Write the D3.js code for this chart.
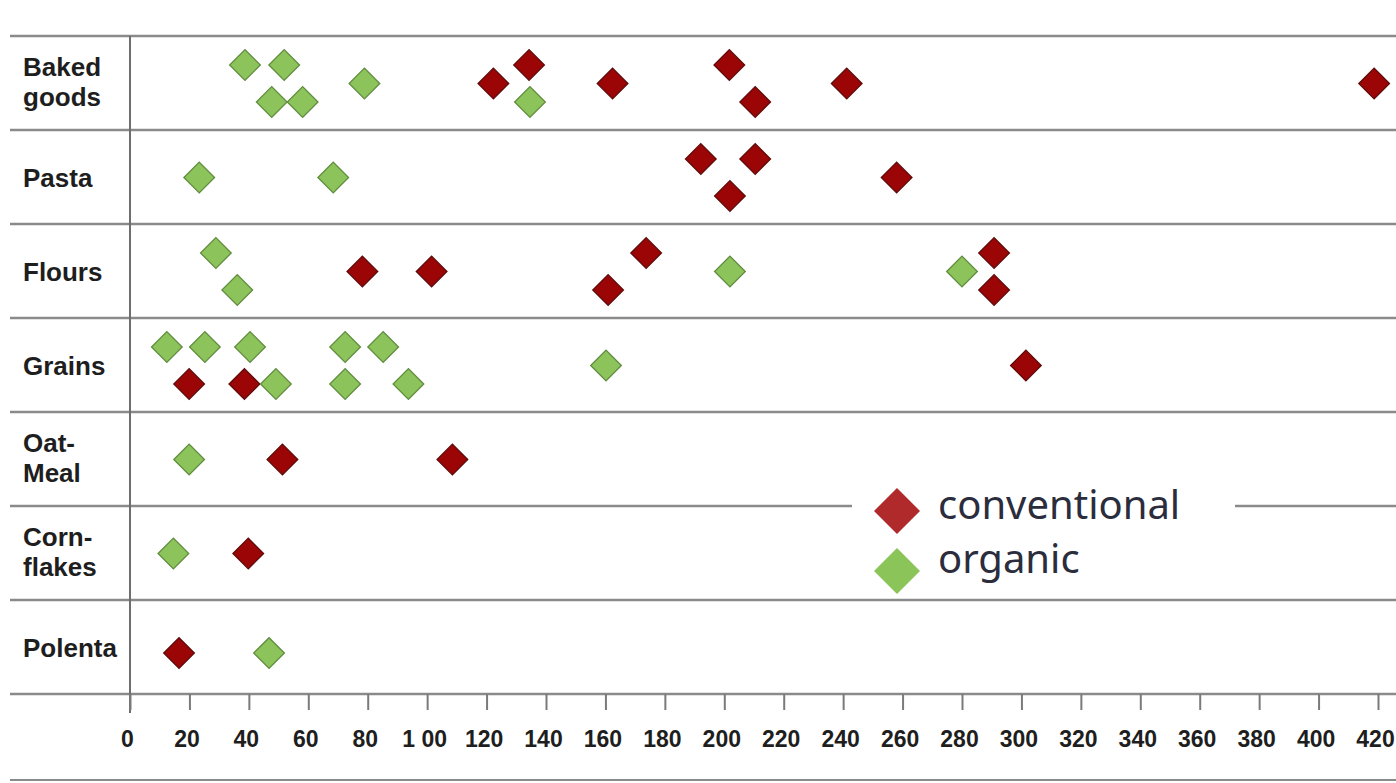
<!DOCTYPE html>
<html>
<head>
<meta charset="utf-8">
<script src="https://cdn.jsdelivr.net/npm/d3@7"></script>
<style>
  html, body { margin: 0; padding: 0; background: #ffffff; }
  svg { display: block; }
</style>
</head>
<body>
<svg id="chart" width="1396" height="783"></svg>
<script>
// ---- data ----
const categories = ["Baked goods", "Pasta", "Flours", "Grains", "Oat-Meal", "Cornflakes", "Polenta"];
const categoryLines = [["Baked", "goods"], ["Pasta"], ["Flours"], ["Grains"], ["Oat-", "Meal"], ["Corn-", "flakes"], ["Polenta"]];

// [category, value, lane]  lane: -1 upper, 0 middle, 1 lower
const conventional = [
  ["Baked goods", 134.3, -1], ["Baked goods", 122.3, 0], ["Baked goods", 162.4, 0],
  ["Baked goods", 201.7, -1], ["Baked goods", 210.4, 1], ["Baked goods", 241.2, 0],
  ["Baked goods", 418.7, 0],
  ["Pasta", 192.1, -1], ["Pasta", 210.4, -1], ["Pasta", 201.9, 1], ["Pasta", 258.0, 0],
  ["Flours", 78.2, 0], ["Flours", 101.5, 0], ["Flours", 173.7, -1], ["Flours", 160.9, 1],
  ["Flours", 290.8, -1], ["Flours", 290.8, 1],
  ["Grains", 19.9, 1], ["Grains", 38.5, 1], ["Grains", 301.5, 0],
  ["Oat-Meal", 51.3, 0], ["Oat-Meal", 108.5, 0],
  ["Cornflakes", 39.8, 0],
  ["Polenta", 16.5, 0.3]
];
const organic = [
  ["Baked goods", 38.7, -1], ["Baked goods", 51.9, -1], ["Baked goods", 47.7, 1],
  ["Baked goods", 58.1, 1], ["Baked goods", 78.9, 0], ["Baked goods", 134.6, 1],
  ["Pasta", 23.3, 0], ["Pasta", 68.4, 0],
  ["Flours", 28.9, -1], ["Flours", 36.1, 1], ["Flours", 201.9, 0], ["Flours", 280.0, 0],
  ["Grains", 12.4, -1], ["Grains", 25.2, -1], ["Grains", 40.4, -1], ["Grains", 72.4, -1],
  ["Grains", 85.2, -1], ["Grains", 49.1, 1], ["Grains", 72.4, 1], ["Grains", 93.7, 1],
  ["Grains", 160.2, 0],
  ["Oat-Meal", 19.9, 0],
  ["Cornflakes", 14.6, 0],
  ["Polenta", 46.8, 0.3]
];
const tickValues = [0, 20, 40, 60, 80, 100, 120, 140, 160, 180, 200, 220, 240, 260, 280, 300, 320, 340, 360, 380, 400, 420];
const tickLabels = ["0", "20", "40", "60", "80", "1 00", "120", "140", "160", "180", "200", "220", "240", "260", "280", "300", "320", "340", "360", "380", "400", "420"];
const seriesNames = ["conventional", "organic"];

// ---- layout / style ----
const W = 1396, H = 783;
const svg = d3.select("#chart");

const x = d3.scaleLinear().domain([0, 420]).range([130, 1378]);
const y = d3.scaleBand().domain(categories).range([36, 694]).padding(0);
const lane = d3.scaleLinear().domain([-1, 1]).range([-18, 19]);

const gridColor = "#8a8a8a";
const markerFill = { conventional: "#9b0505", organic: "#8cc35b" };
const markerStroke = { conventional: "#5e0a0a", organic: "#5f8c3d" };
const legendFill = { conventional: "#b02a2b", organic: "#8bc55a" };

// horizontal row lines
const rowEdges = categories.map(c => y(c)).concat([y.range()[1]]);
svg.append("g").selectAll("line").data(rowEdges).join("line")
  .attr("x1", 10).attr("x2", W)
  .attr("y1", d => d).attr("y2", d => d)
  .attr("stroke", gridColor).attr("stroke-width", 2.4);

// bottom rule
svg.append("line").attr("x1", 10).attr("x2", W).attr("y1", 780).attr("y2", 780)
  .attr("stroke", gridColor).attr("stroke-width", 2);

// vertical axis line
svg.append("line").attr("x1", x(0)).attr("x2", x(0)).attr("y1", 36).attr("y2", 713)
  .attr("stroke", "#6e6e6e").attr("stroke-width", 2);

// x axis
const xAxis = d3.axisBottom(x).tickValues(tickValues)
  .tickFormat((d, i) => tickLabels[i]).tickSize(16).tickPadding(21);
const gx = svg.append("g").attr("transform", `translate(0,${y.range()[1]})`).call(xAxis);
gx.select(".domain").remove();
gx.selectAll(".tick line").attr("stroke", "#7a7a7a").attr("stroke-width", 2);
gx.selectAll(".tick text")
  .attr("fill", "#1e1e1e")
  .attr("dx", -3)
  .style("font-family", "'Liberation Sans', Arial, sans-serif")
  .style("font-weight", "bold")
  .style("font-size", "23px");

// category labels
const labelG = svg.append("g");
categories.forEach((c, i) => {
  const lines = categoryLines[i];
  const cy = y(c) + y.bandwidth() / 2;
  const t = labelG.append("text")
    .attr("x", 23)
    .attr("fill", "#1e1e1e")
    .style("font-family", "'Liberation Sans', Arial, sans-serif")
    .style("font-weight", "bold")
    .style("font-size", "26px");
  if (lines.length === 1) {
    t.attr("y", cy + 10).text(lines[0]);
  } else {
    t.append("tspan").attr("x", 23).attr("y", cy - 7).text(lines[0]);
    t.append("tspan").attr("x", 23).attr("y", cy + 23).text(lines[1]);
  }
});

// markers
const diamond = d3.symbol().type(d3.symbolSquare).size(470);
function drawSeries(name, data) {
  svg.append("g").selectAll("path").data(data).join("path")
    .attr("d", diamond)
    .attr("transform", d => `translate(${x(d[1])},${y(d[0]) + y.bandwidth() / 2 + lane(d[2])}) rotate(45)`)
    .attr("fill", markerFill[name])
    .attr("stroke", markerStroke[name])
    .attr("stroke-width", 1.3);
}
drawSeries("conventional", conventional);
drawSeries("organic", organic);

// legend
const legend = svg.append("g");
legend.append("rect").attr("x", 852).attr("y", 492).attr("width", 383).attr("height", 28).attr("fill", "#ffffff");
const legendSymbol = d3.symbol().type(d3.symbolSquare).size(1060);
seriesNames.forEach((s, i) => {
  const ly = 511 + i * 60;
  legend.append("path").attr("d", legendSymbol)
    .attr("transform", `translate(897,${ly}) rotate(45)`)
    .attr("fill", legendFill[s]);
  legend.append("text").attr("x", 938).attr("y", 519 + i * 54)
    .attr("fill", "#2b2d3c")
    .style("font-family", "'Noto Sans', 'Open Sans', sans-serif")
    .style("font-size", "40px")
    .text(s);
});
</script>
</body>
</html>
